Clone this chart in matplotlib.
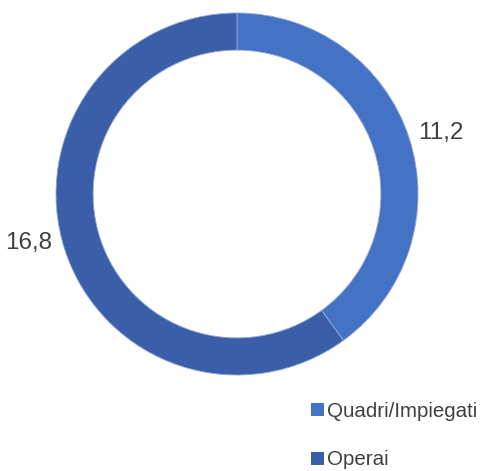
import matplotlib.pyplot as plt

plt.rcParams['font.family'] = ['Liberation Sans', 'DejaVu Sans']

categories = ['Quadri/Impiegati', 'Operai']
values = [11.2, 16.8]
value_labels = ['11,2', '16,8']
colors = ['#4472C4', '#3A5EA8']

fig = plt.figure(figsize=(4.84, 4.71), dpi=100)
ax = fig.add_axes([0.1157, 0.2038, 0.748, 0.7686])

wedges, texts = ax.pie(values, labels=value_labels, colors=colors,
                       startangle=90, counterclock=False, radius=1.0,
                       labeldistance=1.06,
                       wedgeprops=dict(width=0.205, edgecolor='#8FA9DC', linewidth=0.6),
                       textprops=dict(fontsize=17.5, color='#404040'))
# label placement outside the ring
texts[0].set_position((1.0, 0.335))
texts[0].set_ha('left')
texts[1].set_position((-1.02, -0.27))
texts[1].set_ha('right')
ax.set_xlim(-1, 1)
ax.set_ylim(-1, 1)
ax.axis('off')

leg = fig.legend(wedges, categories, loc='upper left', bbox_to_anchor=(0.626, 0.165),
                 frameon=False, fontsize=14.8, handlelength=0.6, handleheight=0.6,
                 handletextpad=0.15, labelspacing=1.45, borderaxespad=0)
for t in leg.get_texts():
    t.set_color('#404040')
for h in leg.legend_handles:
    h.set_edgecolor('none')

fig.savefig('out.png', dpi=100)
